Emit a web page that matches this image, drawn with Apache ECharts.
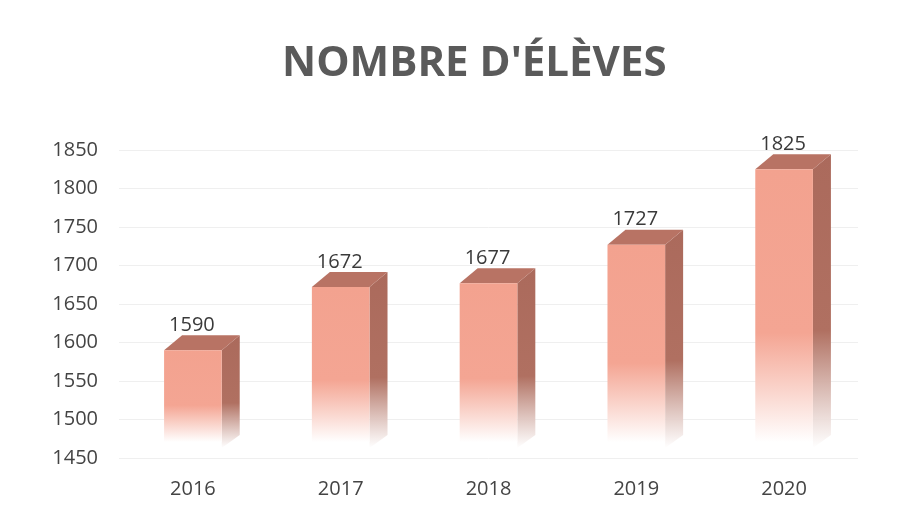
<!DOCTYPE html>
<html>
<head>
<meta charset="utf-8">
<script src="https://cdn.jsdelivr.net/npm/echarts@6/dist/echarts.min.js"></script>
<style>
html,body{margin:0;padding:0;background:#fff;}
#chart{width:920px;height:519px;}
</style>
</head>
<body>
<div id="chart"></div>
<script>
const titleText = "NOMBRE D'ÉLÈVES";
const categories = ['2016', '2017', '2018', '2019', '2020'];
const values = [1590, 1672, 1677, 1727, 1825];
const yMin = 1450, yMax = 1850, yStep = 50;

const chart = echarts.init(document.getElementById('chart'));

function renderItem(params, api) {
  const idx = api.value(0);
  const val = api.value(1);
  const top = api.coord([idx, val]);
  const base = api.coord([idx, yMin]);
  const bandW = api.size([1, 0])[0];
  const w = bandW * 0.39;
  const dx = 18, dy = 15;
  const x0 = top[0] - w / 2, x1 = top[0] + w / 2;
  const yT = top[1];
  const yB = base[1] - 16;
  return {
    type: 'group',
    children: [
      {
        type: 'polygon',
        shape: { points: [[x1, yT], [x1 + dx, yT - dy], [x1 + dx, yB - dy + 8], [x1, yB + 6]] },
        style: {
          fill: new echarts.graphic.LinearGradient(0, 0, 0, 1, [
            { offset: 0, color: '#ab6a5c' },
            { offset: 0.6, color: '#b07061' },
            { offset: 1, color: 'rgba(255,255,255,0.9)' }
          ])
        }
      },
      {
        type: 'polygon',
        shape: { points: [[x0, yT], [x0 + dx, yT - dy], [x1 + dx, yT - dy], [x1, yT]] },
        style: { fill: '#b87364' }
      },
      {
        type: 'rect',
        shape: { x: x0, y: yT, width: w, height: yB - yT },
        style: {
          fill: new echarts.graphic.LinearGradient(0, 0, 0, 1, [
            { offset: 0, color: '#f3a28f' },
            { offset: 0.6, color: '#f4a593' },
            { offset: 1, color: '#ffffff' }
          ])
        }
      },
      {
        type: 'text',
        style: {
          text: String(val),
          x: top[0] - 1,
          y: yT - dy,
          align: 'center',
          verticalAlign: 'bottom',
          fontSize: 20,
          fontFamily: 'Open Sans, sans-serif',
          fill: '#3a3a3a'
        }
      }
    ]
  };
}

chart.setOption({
  animation: false,
  backgroundColor: '#ffffff',
  title: {
    text: titleText,
    left: 277,
    top: 38,
    textStyle: { fontFamily: 'Open Sans, sans-serif', fontWeight: 'bold', fontSize: 42, color: '#5a5a5a' }
  },
  grid: { left: 119, right: 62, top: 150, bottom: 61 },
  xAxis: {
    type: 'category',
    data: categories,
    axisLine: { show: false },
    axisTick: { show: false },
    axisLabel: { margin: 21, fontSize: 20, color: '#444', fontFamily: 'Open Sans, sans-serif' }
  },
  yAxis: {
    type: 'value',
    min: yMin, max: yMax, interval: yStep,
    axisLine: { show: false },
    axisTick: { show: false },
    axisLabel: { margin: 21, fontSize: 20, color: '#444', fontFamily: 'Open Sans, sans-serif', formatter: v => String(v) },
    splitLine: { lineStyle: { color: '#efefef', width: 1 } }
  },
  series: [{
    type: 'custom',
    renderItem: renderItem,
    data: categories.map((c, i) => [i, values[i]]),
    encode: { x: 0, y: 1 }
  }]
});
</script>
</body>
</html>
